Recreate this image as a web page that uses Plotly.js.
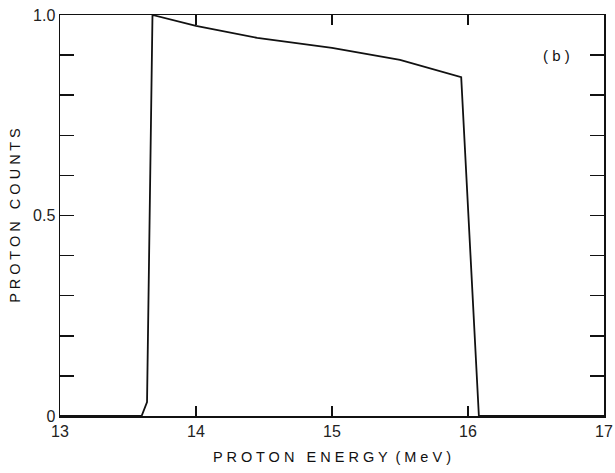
<!DOCTYPE html>
<html>
<head>
<meta charset="utf-8">
<script src="https://cdn.plot.ly/plotly-3.0.1.min.js"></script>
<style>html,body{margin:0;padding:0;background:#fff;}#chart{width:615px;height:473px;}</style>
</head>
<body>
<div id="chart"></div>
<script>
var energy = [13, 13.6, 13.64, 13.68, 14, 14.45, 15, 15.5, 15.95, 16.08, 17];
var counts = [0, 0, 0.035, 1.0, 0.973, 0.943, 0.918, 0.888, 0.845, 0, 0];
var xTickVals = [13, 14, 15, 16, 17];
var xTickText = ['13', '14', '15', '16', '17'];
var yTickVals = [0, 0.1, 0.2, 0.3, 0.4, 0.5, 0.6, 0.7, 0.8, 0.9, 1.0];
var yTickText = ['0', '', '', '', '', '0.5', '', '', '', '', '1.0'];

var trace = {
  x: energy, y: counts, mode: 'lines', type: 'scatter',
  line: {color: '#111', width: 1.8}, hoverinfo: 'skip'
};
var layout = {
  width: 615, height: 473,
  margin: {l: 60, r: 11, t: 15, b: 57},
  paper_bgcolor: '#fff', plot_bgcolor: '#fff',
  showlegend: false,
  font: {family: 'Liberation Sans, Arial, sans-serif', color: '#111', size: 16},
  xaxis: {
    range: [13, 17], tickvals: xTickVals, ticktext: xTickText,
    ticks: 'inside', ticklen: 10, tickwidth: 1.5, tickcolor: '#111',
    showline: true, linecolor: '#111', linewidth: 1.5, mirror: 'ticks',
    showgrid: false, zeroline: false,
    tickfont: {size: 16, color: '#222'},
    title: {text: 'P R O T O N   E N E R G Y  ( M e V )', font: {size: 14.5}, standoff: 13}
  },
  yaxis: {
    range: [0, 1], tickvals: yTickVals, ticktext: yTickText,
    ticks: 'inside', ticklen: 14, tickwidth: 1.5, tickcolor: '#111',
    showline: true, linecolor: '#111', linewidth: 1.5, mirror: 'ticks',
    showgrid: false, zeroline: false,
    tickfont: {size: 16, color: '#222'},
    title: {text: 'P R O T O N   C O U N T S', font: {size: 14.5}, standoff: 9}
  },
  annotations: [{
    x: 16.65, y: 0.9, xref: 'x', yref: 'y', text: '( b )', showarrow: false,
    font: {size: 15, color: '#111'}
  }]
};
Plotly.newPlot('chart', [trace], layout, {staticPlot: true, displayModeBar: false});
</script>
</body>
</html>
